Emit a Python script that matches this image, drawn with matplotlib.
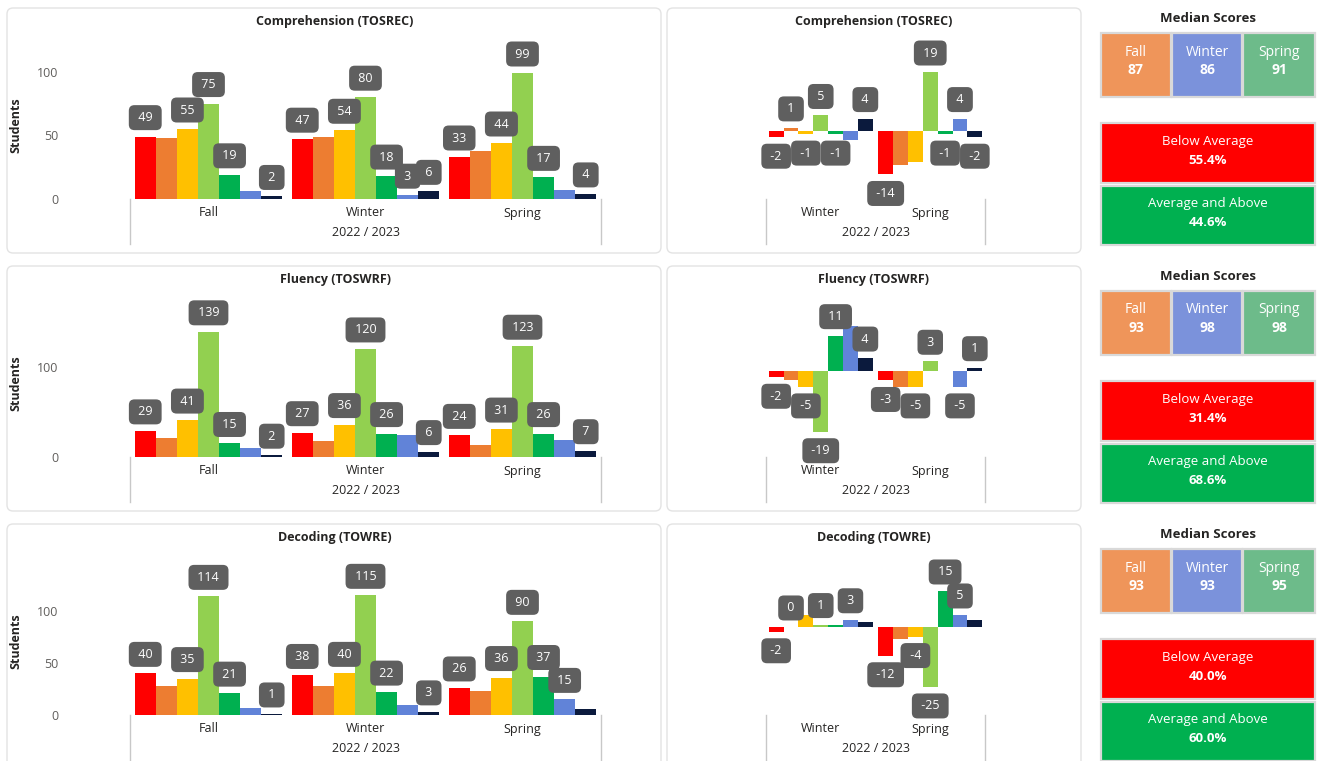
import matplotlib
matplotlib.use('Agg')
import matplotlib.pyplot as plt
from matplotlib.patches import FancyBboxPatch, Rectangle
from matplotlib.transforms import IdentityTransform

plt.rcParams['font.family'] = ['Open Sans', 'DejaVu Sans']

W, H = 1325, 761

# band colours, lowest to highest
band_colors = ['#FF0000', '#ED7D31', '#FFC000', '#92D050', '#00B050', '#6183D8', '#0B1A3D']
seasons = ['Fall', 'Winter', 'Spring']
change_seasons = ['Winter', 'Spring']
school_year = '2022 / 2023'
titles = ['Comprehension (TOSREC)', 'Fluency (TOSWRF)', 'Decoding (TOWRE)']

# students per band (rows: Fall, Winter, Spring)
comp_counts = [[49, 48, 55, 75, 19, 6, 2], [47, 49, 54, 80, 18, 3, 6], [33, 38, 44, 99, 17, 7, 4]]
flu_counts = [[29, 21, 41, 139, 15, 10, 2], [27, 18, 36, 120, 26, 24, 6], [24, 13, 31, 123, 26, 19, 7]]
dec_counts = [[40, 28, 35, 114, 21, 7, 1], [38, 28, 40, 115, 22, 10, 3], [26, 23, 36, 90, 37, 15, 6]]

# change from previous season (rows: Winter, Spring)
comp_change = [[-2, 1, -1, 5, -1, -3, 4], [-14, -11, -10, 19, -1, 4, -2]]
flu_change = [[-2, -3, -5, -19, 11, 14, 4], [-3, -5, -5, 3, 0, -5, 1]]
dec_change = [[-2, 0, 5, 1, 1, 3, 2], [-12, -5, -4, -25, 15, 5, 3]]

# which data labels survive the overlap hiding
comp_shown = [[1, 0, 1, 1, 1, 0, 1], [1, 0, 1, 1, 1, 1, 1], [1, 0, 1, 1, 1, 0, 1]]
flu_shown = [[1, 0, 1, 1, 1, 0, 1], [1, 0, 1, 1, 1, 0, 1], [1, 0, 1, 1, 1, 0, 1]]
dec_shown = [[1, 0, 1, 1, 1, 0, 1], [1, 0, 1, 1, 1, 0, 1], [1, 0, 1, 1, 1, 1, 0]]
comp_change_shown = [[1, 1, 1, 1, 1, 0, 1], [1, 0, 0, 1, 1, 1, 1]]
flu_change_shown = [[1, 0, 1, 1, 1, 0, 1], [1, 0, 1, 1, 0, 1, 1]]
dec_change_shown = [[1, 1, 0, 1, 0, 1, 0], [1, 0, 1, 1, 1, 1, 0]]

# median scores (Fall, Winter, Spring)
comp_median = [87, 86, 91]
flu_median = [93, 98, 98]
dec_median = [93, 93, 95]
median_colors = ['#EF955A', '#7B92DB', '#6DBB8A']

below_avg = [55.4, 31.4, 40.0]
avg_above = [44.6, 68.6, 60.0]

counts_all = [comp_counts, flu_counts, dec_counts]
change_all = [comp_change, flu_change, dec_change]
shown_all = [comp_shown, flu_shown, dec_shown]
change_shown_all = [comp_change_shown, flu_change_shown, dec_change_shown]
median_all = [comp_median, flu_median, dec_median]

# layout (pixels)
ROW = 258
count_ylim = [(0, 121), (0, 171), (0, 148)]
count_ticks = [[0, 50, 100], [0, 100], [0, 50, 100]]
change_ylim = [(-21.9, 27.7), (-26.9, 21.2), (-36.7, 27.5)]

TITLE_C = '#252423'
TICK_C = '#605E5C'
LABEL_BG = '#5F5F5F'
PX = 0.72  # points per pixel at dpi 100

fig = plt.figure(figsize=(W / 100, H / 100), dpi=100)
fig.patch.set_facecolor('white')


def add_ax(x0, y0, x1, y1):
    ax = fig.add_axes([x0 / W, 1 - y1 / H, (x1 - x0) / W, (y1 - y0) / H])
    ax.set_zorder(2)
    return ax


def card(x0, y0, x1, y1):
    p = FancyBboxPatch((x0, H - y1), x1 - x0, y1 - y0,
                       boxstyle='round,pad=0,rounding_size=6',
                       fc='white', ec='#E3E3E3', lw=1,
                       transform=IdentityTransform(), zorder=-1)
    fig.patches.append(p)


def box(x0, y0, x1, y1, color):
    p = Rectangle((x0, H - y1), x1 - x0, y1 - y0, fc=color, ec='#D9D9D9', lw=1.6,
                  transform=IdentityTransform(), zorder=1)
    fig.patches.append(p)


def label(ax, x, v, txt):
    off = 19 * PX if v >= 0 else -19 * PX
    ax.annotate(' ' + txt + ' ', xy=(x, v), xytext=(0, off), textcoords='offset points',
                ha='center', va='center', color='white', fontsize=9, zorder=5,
                bbox=dict(boxstyle='round,pad=0.48,rounding_size=0.45', fc=LABEL_BG, ec='none'))


def category_axis(ax, cats):
    n = len(cats)
    tr = ax.get_xaxis_transform()
    h = ax.get_position().height * H
    for xv in [-0.5, n - 0.5]:
        ax.plot([xv, xv], [0, -45 / h], color='#C8C8C8', lw=1, transform=tr, clip_on=False)
    for i, c in enumerate(cats):
        ax.annotate(c, xy=(i, 0), xycoords=tr, xytext=(0, -14 * PX), textcoords='offset points',
                    ha='center', va='center', fontsize=9, color='#252423')
    ax.annotate(school_year, xy=((n - 1) / 2, 0), xycoords=tr, xytext=(0, -34 * PX),
                textcoords='offset points', ha='center', va='center', fontsize=9, color='#252423')


def clean(ax):
    for s in ax.spines.values():
        s.set_visible(False)
    ax.set_xticks([])
    ax.patch.set_alpha(0)


nb = len(band_colors)
bw = 0.94 / nb

for r in range(3):
    oy = r * ROW

    # cards
    card(7, 8 + oy, 661, 253 + oy)
    card(667, 8 + oy, 1081, 253 + oy)

    # counts chart
    ax = add_ax(130, 45 + oy, 601, 199 + oy)
    clean(ax)
    counts = counts_all[r]
    for i in range(len(seasons)):
        for j in range(nb):
            x = i + (j - (nb - 1) / 2) * bw
            ax.bar(x, counts[i][j], width=bw, color=band_colors[j], zorder=2)
            if shown_all[r][i][j]:
                label(ax, x, counts[i][j], str(counts[i][j]))
    ax.set_xlim(-0.5, len(seasons) - 0.5)
    ax.set_ylim(*count_ylim[r])
    ax.set_yticks(count_ticks[r])
    ax.tick_params(axis='y', length=0, pad=72 * PX, labelsize=9, labelcolor=TICK_C)
    category_axis(ax, seasons)
    fig.text(335 / W, 1 - (21 + oy) / H, titles[r], ha='center', va='center',
             fontsize=9, fontweight='bold', color=TITLE_C)
    fig.text(16 / W, 1 - (125 + oy) / H, 'Students', rotation=90, ha='center', va='center',
             fontsize=9, fontweight='bold', color=TITLE_C)

    # change chart
    ax2 = add_ax(766, 45 + oy, 985, 199 + oy)
    clean(ax2)
    ax2.set_yticks([])
    ch = change_all[r]
    cbw = 0.95 / nb
    for i in range(len(change_seasons)):
        for j in range(nb):
            x = i + (j - (nb - 1) / 2) * cbw
            ax2.bar(x, ch[i][j], width=cbw, color=band_colors[j], zorder=2)
            if change_shown_all[r][i][j]:
                label(ax2, x, ch[i][j], str(ch[i][j]))
    ax2.set_xlim(-0.5, len(change_seasons) - 0.5)
    ax2.set_ylim(*change_ylim[r])
    category_axis(ax2, change_seasons)
    fig.text(874 / W, 1 - (21 + oy) / H, titles[r], ha='center', va='center',
             fontsize=9, fontweight='bold', color=TITLE_C)

    # medians panel
    fig.text(1208 / W, 1 - (18 + oy) / H, 'Median Scores', ha='center', va='center',
             fontsize=9.5, fontweight='bold', color=TITLE_C)
    bx = [(1101, 1171), (1172, 1242), (1243, 1315)]
    for k, (x0, x1) in enumerate(bx):
        box(x0, 33 + oy, x1, 97 + oy, median_colors[k])
        fig.text((x0 + x1) / 2 / W, 1 - (52 + oy) / H, seasons[k], ha='center', va='center',
                 fontsize=10, color='white')
        fig.text((x0 + x1) / 2 / W, 1 - (70 + oy) / H, str(median_all[r][k]), ha='center',
                 va='center', fontsize=10, fontweight='bold', color='white')

    box(1101, 123 + oy, 1315, 183 + oy, '#FF0000')
    fig.text(1208 / W, 1 - (142 + oy) / H, 'Below Average', ha='center', va='center',
             fontsize=9.5, color='white')
    fig.text(1208 / W, 1 - (160 + oy) / H, f'{below_avg[r]:.1f}%', ha='center', va='center',
             fontsize=9.5, fontweight='bold', color='white')
    box(1101, 186 + oy, 1315, 245 + oy, '#00B050')
    fig.text(1208 / W, 1 - (204 + oy) / H, 'Average and Above', ha='center', va='center',
             fontsize=9.5, color='white')
    fig.text(1208 / W, 1 - (222 + oy) / H, f'{avg_above[r]:.1f}%', ha='center', va='center',
             fontsize=9.5, fontweight='bold', color='white')

fig.savefig('out.png', dpi=100)
